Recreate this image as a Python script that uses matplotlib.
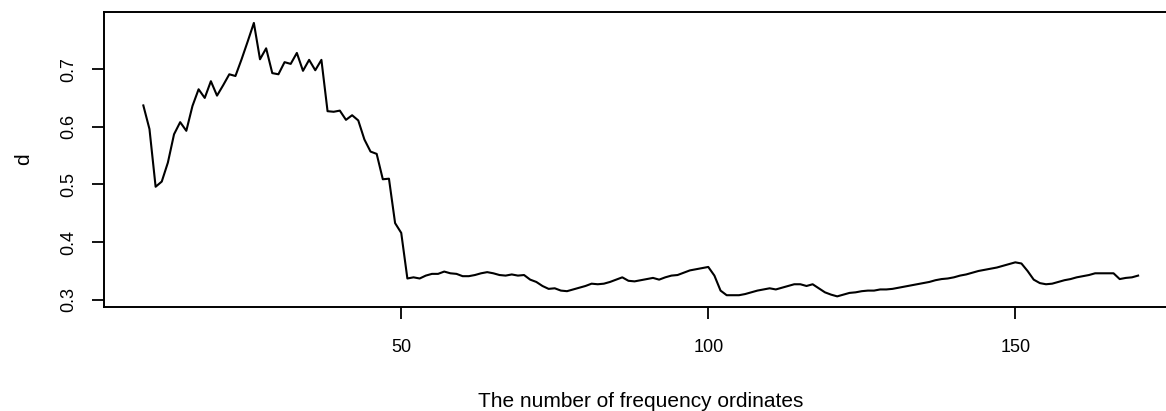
import numpy as np
import matplotlib
matplotlib.use("Agg")
import matplotlib.pyplot as plt

# number of frequency ordinates used (8 .. 170)
ordinates = np.arange(8, 171)

# estimated d for each number of ordinates
d_values = [
    0.637, 0.596, 0.496, 0.505, 0.538, 0.587, 0.608, 0.593, 0.636, 0.665,
    0.650, 0.679, 0.654, 0.672, 0.691, 0.688, 0.717, 0.748, 0.780, 0.717,
    0.736, 0.693, 0.691, 0.712, 0.709, 0.728, 0.697, 0.716, 0.698, 0.716,
    0.627, 0.626, 0.628, 0.612, 0.620, 0.611, 0.578, 0.557, 0.553, 0.509,
    0.510, 0.433, 0.416, 0.337, 0.339, 0.337, 0.342, 0.345, 0.345, 0.349,
    0.346, 0.345, 0.341, 0.341, 0.343, 0.346, 0.348, 0.346, 0.343, 0.342,
    0.344, 0.342, 0.343, 0.335, 0.331, 0.324, 0.319, 0.320, 0.316, 0.315,
    0.318, 0.321, 0.324, 0.328, 0.327, 0.328, 0.331, 0.335, 0.339, 0.333,
    0.332, 0.334, 0.336, 0.338, 0.335, 0.339, 0.342, 0.343, 0.347, 0.351,
    0.353, 0.355, 0.357, 0.342, 0.316, 0.308, 0.308, 0.308, 0.310, 0.313,
    0.316, 0.318, 0.320, 0.318, 0.321, 0.324, 0.327, 0.327, 0.324, 0.327,
    0.320, 0.313, 0.309, 0.306, 0.309, 0.312, 0.313, 0.315, 0.316, 0.316,
    0.318, 0.318, 0.319, 0.321, 0.323, 0.325, 0.327, 0.329, 0.331, 0.334,
    0.336, 0.337, 0.339, 0.342, 0.344, 0.347, 0.350, 0.352, 0.354, 0.356,
    0.359, 0.362, 0.365, 0.363, 0.350, 0.335, 0.329, 0.327, 0.328, 0.331,
    0.334, 0.336, 0.339, 0.341, 0.343, 0.346, 0.346, 0.346, 0.346, 0.336,
    0.338, 0.339, 0.342,
]

x_ticks = [50, 100, 150]
y_ticks = [0.3, 0.4, 0.5, 0.6, 0.7]


def r_limits(values):
    # base R style: data range padded by 4% on each side
    lo, hi = min(values), max(values)
    pad = (hi - lo) * 0.04
    return lo - pad, hi + pad


def main():
    plt.rcParams['font.family'] = ['Liberation Sans', 'DejaVu Sans']
    fig = plt.figure(figsize=(11.66, 4.11), dpi=100)
    # the plot box runs past the right edge of the picture, as in the reference
    ax = fig.add_axes([0.0888, 0.2523, 0.9214, 0.7185])

    ax.plot(ordinates, d_values, color='black', linewidth=1.5)

    ax.set_xlim(r_limits(list(ordinates)))
    ax.set_ylim(r_limits(d_values))
    ax.set_xticks(x_ticks)
    ax.set_yticks(y_ticks)
    ax.set_yticklabels([f"{v:.1f}" for v in y_ticks], rotation=90, va='center')

    ax.tick_params(axis='both', length=8.6, width=1.3, labelsize=13)
    ax.tick_params(axis='x', pad=14)
    ax.tick_params(axis='y', pad=10)
    for side in ax.spines.values():
        side.set_linewidth(1.4)

    ax.set_xlabel("The number of frequency ordinates", fontsize=15, labelpad=26)
    ax.set_ylabel("d", fontsize=15, labelpad=20)

    fig.savefig("out.png", dpi=100, facecolor='white')


if __name__ == '__main__':
    main()
